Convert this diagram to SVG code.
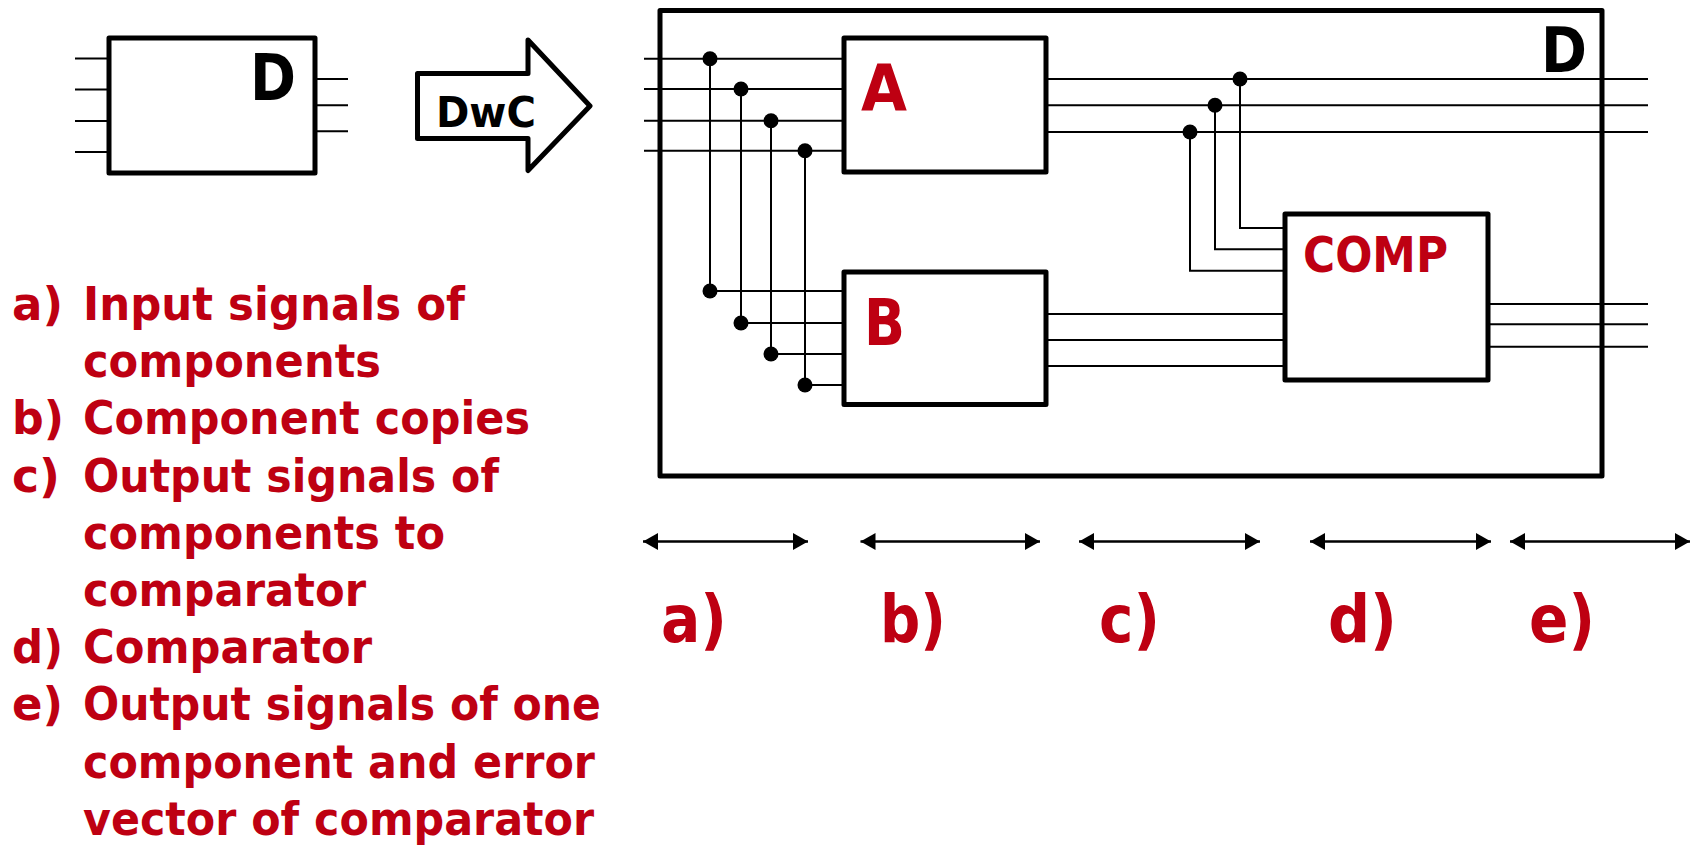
<svg xmlns="http://www.w3.org/2000/svg" width="1691" height="846" viewBox="0 0 1691 846">
<style>
.box{fill:#fff;stroke:#000;stroke-width:5;stroke-linejoin:round}
.frame{fill:none;stroke:#000;stroke-width:5;stroke-linejoin:round}
.w{fill:none;stroke:#000;stroke-width:2}
.dim{fill:none;stroke:#000;stroke-width:2.5}
.dot{fill:#000}
.bk{font-family:"DejaVu Sans","Verdana",sans-serif;font-weight:bold;fill:#000}
.rd{font-family:"DejaVu Sans","Verdana",sans-serif;font-weight:bold;fill:#BE0012}
</style>
<defs>
<marker id="ah" markerUnits="userSpaceOnUse" markerWidth="20" markerHeight="20" viewBox="-16 -10 18 20" refX="0" refY="0" orient="auto-start-reverse">
<path d="M0,0 L-15,-8.5 L-15,8.5 Z" fill="#000"/>
</marker>
</defs>
<rect width="1691" height="846" fill="#fff"/>

<g id="small-d">
<path class="w" d="M75,58.5H109M75,89.5H109M75,121H109M75,152H109M315,79H348M315,105.3H348M315,131.3H348"/>
<rect class="box" x="109" y="38" width="206" height="135" stroke-width="4.5"/>
<text class="bk" x="250" y="100" font-size="64" textLength="46" lengthAdjust="spacingAndGlyphs">D</text>
</g>

<g id="dwc-arrow">
<polygon class="box" points="417.5,73.5 528,73.5 528,40 590,106 528,170.5 528,138.5 417.5,138.5"/>
<text class="bk" x="436" y="126.5" font-size="43" textLength="100" lengthAdjust="spacingAndGlyphs">DwC</text>
</g>

<g id="big-d">
<rect class="frame" x="660" y="10.5" width="942" height="465.5"/>
<text class="bk" x="1541" y="71.5" font-size="62" textLength="46" lengthAdjust="spacingAndGlyphs">D</text>
</g>

<g id="connectors">
<path class="w" d="M644,58.7H844M644,89H844M644,120.7H844M644,150.7H844"/>
<path class="w" d="M710,58.7V291H844M741,89V323H844M771,120.7V354H844M805,150.7V385H844"/>
<path class="w" d="M1046,79H1648M1046,105.3H1648M1046,132H1648"/>
<path class="w" d="M1240,79V228H1285M1215,105.3V249.3H1285M1190,132V270.7H1285"/>
<path class="w" d="M1046,314H1285M1046,340H1285M1046,366H1285"/>
<path class="w" d="M1488,304H1648M1488,324.3H1648M1488,346.7H1648"/>
<g class="dot">
<circle cx="710" cy="58.7" r="7.5"/><circle cx="741" cy="89" r="7.5"/><circle cx="771" cy="120.7" r="7.5"/><circle cx="805" cy="150.7" r="7.5"/>
<circle cx="710" cy="291" r="7.5"/><circle cx="741" cy="323" r="7.5"/><circle cx="771" cy="354" r="7.5"/><circle cx="805" cy="385" r="7.5"/>
<circle cx="1240" cy="79" r="7.5"/><circle cx="1215" cy="105.3" r="7.5"/><circle cx="1190" cy="132" r="7.5"/>
</g>
</g>

<g id="node-a">
<rect class="box" x="844" y="38" width="202" height="134"/>
<text class="rd" x="861" y="111" font-size="64" textLength="46" lengthAdjust="spacingAndGlyphs">A</text>
</g>

<g id="node-b">
<rect class="box" x="844" y="272" width="202" height="132.5"/>
<text class="rd" x="864" y="344.5" font-size="64" textLength="41" lengthAdjust="spacingAndGlyphs">B</text>
</g>

<g id="node-comp">
<rect class="box" x="1285" y="214" width="203" height="166"/>
<text class="rd" x="1303" y="271.5" font-size="49" textLength="145" lengthAdjust="spacingAndGlyphs">COMP</text>
</g>

<g id="ranges">
<line class="dim" x1="643" y1="541.5" x2="808" y2="541.5" marker-start="url(#ah)" marker-end="url(#ah)"/>
<line class="dim" x1="860.5" y1="541.5" x2="1040" y2="541.5" marker-start="url(#ah)" marker-end="url(#ah)"/>
<line class="dim" x1="1079" y1="541.5" x2="1260" y2="541.5" marker-start="url(#ah)" marker-end="url(#ah)"/>
<line class="dim" x1="1310" y1="541.5" x2="1491" y2="541.5" marker-start="url(#ah)" marker-end="url(#ah)"/>
<line class="dim" x1="1510" y1="541.5" x2="1690" y2="541.5" marker-start="url(#ah)" marker-end="url(#ah)"/>
<g class="rd" font-size="66">
<text x="661" y="641.5" textLength="66" lengthAdjust="spacingAndGlyphs">a)</text>
<text x="880" y="641.5" textLength="66" lengthAdjust="spacingAndGlyphs">b)</text>
<text x="1099" y="641.5" textLength="61" lengthAdjust="spacingAndGlyphs">c)</text>
<text x="1328" y="641.5" textLength="69" lengthAdjust="spacingAndGlyphs">d)</text>
<text x="1529" y="641.5" textLength="66" lengthAdjust="spacingAndGlyphs">e)</text>
</g>
</g>

<g id="legend" class="rd" font-size="46">
<text x="12" y="320" textLength="51" lengthAdjust="spacingAndGlyphs">a)</text>
<text x="83" y="320" textLength="382" lengthAdjust="spacingAndGlyphs">Input signals of</text>
<text x="83" y="377.2" textLength="298" lengthAdjust="spacingAndGlyphs">components</text>
<text x="12" y="434.4" textLength="52" lengthAdjust="spacingAndGlyphs">b)</text>
<text x="83" y="434.4" textLength="447" lengthAdjust="spacingAndGlyphs">Component copies</text>
<text x="12" y="491.6" textLength="48" lengthAdjust="spacingAndGlyphs">c)</text>
<text x="83" y="491.6" textLength="416" lengthAdjust="spacingAndGlyphs">Output signals of</text>
<text x="83" y="548.8" textLength="362" lengthAdjust="spacingAndGlyphs">components to</text>
<text x="83" y="606" textLength="283" lengthAdjust="spacingAndGlyphs">comparator</text>
<text x="12" y="663.2" textLength="51" lengthAdjust="spacingAndGlyphs">d)</text>
<text x="83" y="663.2" textLength="289" lengthAdjust="spacingAndGlyphs">Comparator</text>
<text x="12" y="720.4" textLength="51" lengthAdjust="spacingAndGlyphs">e)</text>
<text x="83" y="720.4" textLength="518" lengthAdjust="spacingAndGlyphs">Output signals of one</text>
<text x="83" y="777.6" textLength="512" lengthAdjust="spacingAndGlyphs">component and error</text>
<text x="83" y="834.8" textLength="511" lengthAdjust="spacingAndGlyphs">vector of comparator</text>
</g>
</svg>
